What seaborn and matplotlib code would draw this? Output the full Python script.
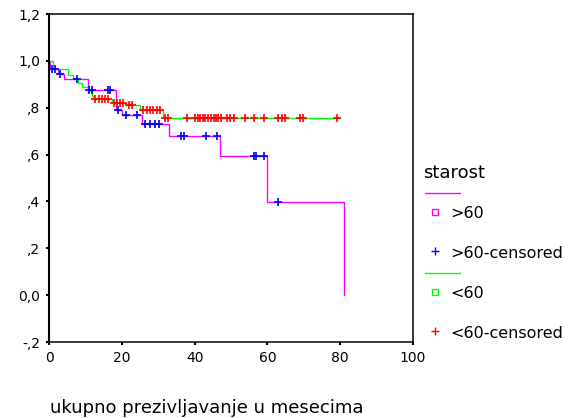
import numpy as np
import matplotlib
matplotlib.use("Agg")
import matplotlib.pyplot as plt
from matplotlib.lines import Line2D
import seaborn as sns

# Kaplan-Meier po starosti, vrednosti ocitane sa slike
stari_vreme = [0, 0.4, 2.6, 4.2, 10.6, 18.3, 20.0, 25.5, 32.9, 46.9, 59.9, 81.0]
stari_prez = [1.0, 0.967, 0.942, 0.924, 0.875, 0.79, 0.768, 0.73, 0.679, 0.593, 0.397, 0.0]
stari_cenz = [0.7, 1.6, 3.0, 7.6, 11.0, 11.8, 16.1, 16.8, 19.0, 21.1, 24.1,
              26.4, 27.8, 29.0, 30.1, 36.2, 37.0, 43.2, 46.1, 56.4, 57.0, 59.1, 62.9]

mladji_vreme = [0, 1.2, 5.1, 6.7, 8.0, 9.0, 10.8, 11.7, 12.2, 17.2, 21.2, 25.0, 31.4, 80.0]
mladji_prez = [1.0, 0.966, 0.94, 0.925, 0.905, 0.89, 0.87, 0.848, 0.836, 0.822, 0.81, 0.789, 0.758, 0.758]
mladji_cenz = [12.6, 13.6, 14.5, 15.4, 16.3, 17.8, 18.6, 19.4, 20.2, 22.0, 22.9,
               25.8, 26.8, 27.8, 28.7, 29.6, 30.5, 31.9, 32.8, 37.8, 40.1, 40.8,
               41.5, 42.3, 42.9, 43.8, 44.5, 45.2, 45.9, 46.5, 47.2, 49.0, 49.8,
               50.7, 53.9, 56.4, 59.2, 63.0, 64.0, 64.9, 69.0, 69.9, 79.1]

x_ticks = [0, 20, 40, 60, 80, 100]
y_ticks = [-0.2, 0.0, 0.2, 0.4, 0.6, 0.8, 1.0, 1.2]
y_oznake = ["-,2", "0,0", ",2", ",4", ",6", ",8", "1,0", "1,2"]

grupe = [">60", "<60"]
boje_linija = ["#ff00ff", "#00ff00"]
boje_cenz = ["#0000ff", "#ff0000"]


def prez_u(vreme, prez, t):
    # vrednost stepenaste krive u trenutku t
    i = np.searchsorted(vreme, t, side="right") - 1
    return np.array(prez)[i]


sns.set_style("ticks")
plt.rcParams["font.family"] = ["DejaVu Sans"]
plt.rcParams["text.color"] = "black"

W, H = 582, 418
fig = plt.figure(figsize=(W / 100, H / 100), dpi=100)
ax = fig.add_axes([49 / W, 1 - 342 / H, 364 / W, 328 / H])

krive = [(stari_vreme, stari_prez, stari_cenz), (mladji_vreme, mladji_prez, mladji_cenz)]
for (vr, pr, cz), bl, bc in zip(krive, boje_linija, boje_cenz):
    sns.lineplot(x=vr, y=pr, drawstyle="steps-post", color=bl, lw=1.0,
                 estimator=None, sort=False, ax=ax)
    sns.scatterplot(x=cz, y=prez_u(vr, pr, np.array(cz)), marker="+", s=30,
                    color=bc, linewidth=1.2, ax=ax, zorder=3)

ax.set_xlim(0, 100)
ax.set_ylim(-0.2, 1.2)
ax.set_xticks(x_ticks)
ax.set_yticks(y_ticks)
ax.set_yticklabels(y_oznake)
ax.tick_params(axis="both", length=2, width=1.5, pad=4.5, labelsize=10, colors="black")
for s in ax.spines.values():
    s.set_visible(True)
    s.set_color("black")
    s.set_linewidth(1.1)
ax.spines["left"].set_linewidth(1.5)
ax.set_xlabel("")
ax.set_ylabel("")

fig.text(50 / W, 1 - 413 / H, "ukupno prezivljavanje u mesecima",
         fontsize=13, ha="left", va="baseline")

# legenda rucno, kao u SPSS-u
def px(x, y):
    return x / W, 1 - y / H

fig.text(*px(423, 173), "starost", fontsize=13, ha="left", va="center")
redovi = [(193, 212, 251), (273, 292, 331)]
for (yl, ys, yc), g, bl, bc in zip(redovi, grupe, boje_linija, boje_cenz):
    x0, y0 = px(425, yl)
    x1, _ = px(460, yl)
    fig.add_artist(Line2D([x0, x1], [y0, y0], color=bl, lw=1.0, transform=fig.transFigure))
    fig.add_artist(Line2D([px(435, ys)[0]], [px(435, ys)[1]], marker="s", ms=4.5, mfc="none",
                          mec=bl, mew=1.0, transform=fig.transFigure))
    fig.text(*px(450, ys + 2), g, fontsize=11.5, ha="left", va="center")
    fig.add_artist(Line2D([px(435, yc)[0]], [px(435, yc)[1]], marker="+", ms=6,
                          color=bc, mew=1.0, transform=fig.transFigure))
    fig.text(*px(450, yc + 2), g + "-censored", fontsize=11.5, ha="left", va="center")

fig.savefig("out.png", dpi=100)
